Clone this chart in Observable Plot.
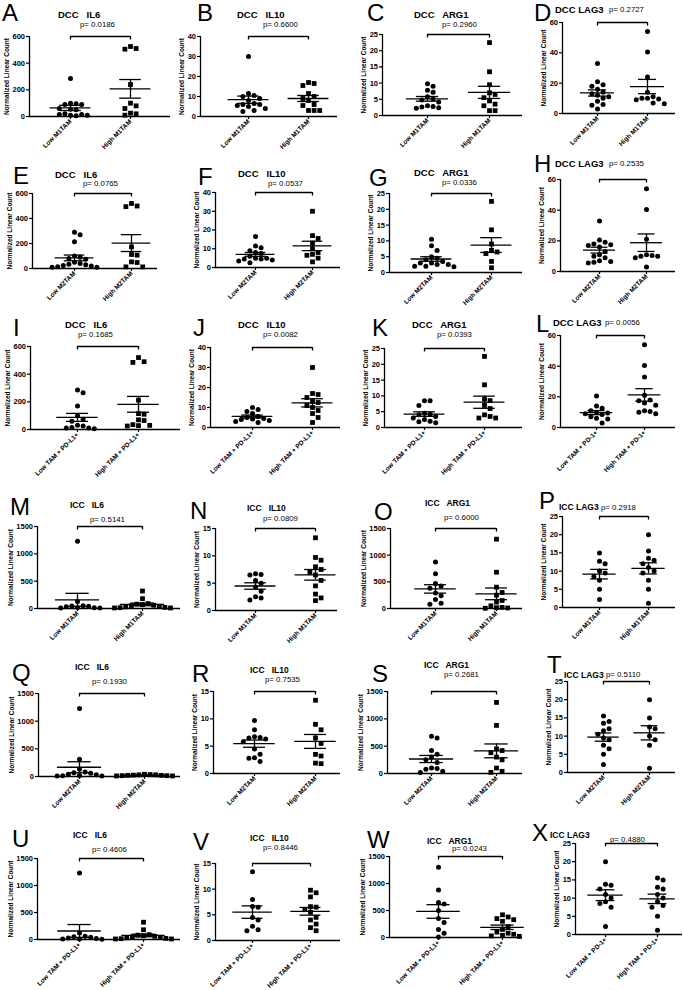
<!DOCTYPE html>
<html><head><meta charset="utf-8">
<script src="https://cdn.jsdelivr.net/npm/d3@7"></script>
<script src="https://cdn.jsdelivr.net/npm/@observablehq/plot@0.6"></script>
<style>
body{margin:0;background:#fff;}
#fig{position:relative;width:684px;height:990px;overflow:hidden;font-family:"Liberation Sans",Arial,sans-serif;background:#fff;}
.t{position:absolute;white-space:pre;line-height:1;transform:translateY(-50%);color:#000;}
.let{font-size:24px;line-height:0.85;}
.ttl{font-size:9.5px;font-weight:bold;}
.ttl.icc{font-size:8.5px;}
.pv{font-size:7.8px;}
#fig svg{position:absolute;overflow:visible;}
</style></head><body><div id="fig"></div>
<script>
// ---------------- data ----------------
const dccIl6M1Low = [285, 95, 90, 90, 100, 60, 55, 50, 20, 15, 10, 10, 15, 5];
const dccIl6M1High = [525, 510, 505, 240, 100, 80, 60, 25, 20, 10];
const dccIl10M1Low = [30, 11.5, 10.5, 10, 9, 8, 6.5, 6, 6, 5.5, 5, 4, 3, 2.5];
const dccIl10M1High = [17, 16.5, 15.5, 11.5, 10, 9, 8, 6, 5.5, 3, 3, 3];
const dccArg1M1Low = [9.8, 9, 7.8, 7.2, 5.8, 5.2, 4.8, 4.2, 3, 2.8, 2.6, 2.4, 2.2];
const dccArg1M1High = [22.5, 13.5, 9.5, 7, 6.5, 5.5, 4.5, 3.5, 3, 1.5, 1.5];
const dccLag3M1Low = [33, 21, 19, 18, 16, 14, 13, 12, 11, 10, 8, 6, 5.5, 3];
const dccLag3M1High = [54, 40.5, 24, 14, 11, 10, 10, 9.5, 9, 7, 6.5];

const dccIl6M2Low = [290, 270, 215, 100, 90, 80, 75, 50, 40, 35, 30, 25, 20, 15, 10, 10];
const dccIl6M2High = [520, 500, 495, 173, 112, 107, 53, 48, 13, 13];
const dccIl10M2Low = [16.5, 11.5, 10.5, 9, 8, 7.5, 6, 5, 5, 4.5, 4.5, 4, 3.5, 2.5];
const dccIl10M2High = [30, 17, 15.5, 13, 10, 8, 7, 6.5, 5, 3];
const dccArg1M2Low = [10.5, 8.5, 7, 5, 4.5, 4, 3.5, 3, 3, 2.5, 2.5, 2, 2, 1.8];
const dccArg1M2High = [22.5, 13.5, 9, 7, 6.5, 6, 3.5, 1.5];
const dccLag3M2Low = [33, 20.5, 19, 18, 17.5, 17, 16, 13, 11, 10, 9, 7, 6.5, 6, 5.5];
const dccLag3M2High = [54, 40.5, 21, 11, 10.5, 10, 10, 9, 3];

const dccIl6PdLow = [285, 265, 170, 100, 75, 60, 30, 25, 15, 10, 10, 5];
const dccIl6PdHigh = [520, 490, 485, 212, 115, 110, 70, 65, 35, 30, 28, 25];
const dccIl10PdLow = [10, 9, 8, 7, 5.5, 5, 4.5, 4.2, 4, 3.5, 3, 2.5];
const dccIl10PdHigh = [30, 17, 16.5, 15, 13, 12.5, 11, 10, 8.5, 7, 5, 2.5];
const dccArg1PdLow = [8.5, 8.5, 7, 4.5, 4.2, 4, 3.5, 3, 2.5, 2, 1.8, 1.5];
const dccArg1PdHigh = [22.5, 13.5, 9, 8.5, 7, 6, 4, 3.5, 3, 3];
const dccLag3PdLow = [20.5, 14, 12.5, 11, 10, 9.5, 9, 8.5, 7, 6, 5.5, 3];
const dccLag3PdHigh = [54, 40.5, 33, 21, 18, 17.5, 16, 14.5, 11, 10.5, 10, 9];

const iccIl6M1Low = [1230, 130, 50, 45, 40, 30, 20, 15, 10, 10];
const iccIl6M1High = [320, 180, 90, 80, 70, 60, 50, 40, 30, 20, 15, 10, 10];
const iccIl10M1Low = [6.7, 6.6, 6.5, 5.5, 5, 4.3, 3.5, 2.5, 2.3, 1.9];
const iccIl10M1High = [13.3, 9.7, 9.2, 8, 7.5, 7, 6.5, 5.5, 4.5, 3, 2.3, 1.8];
const iccArg1M1Low = [870, 650, 470, 420, 380, 290, 240, 170, 100, 80];
const iccArg1M1High = [1300, 680, 400, 300, 250, 150, 120, 50, 20, 15, 10, 5];
const iccLag3M1Low = [15, 12.7, 12, 10, 9.5, 8.5, 7.5, 5, 2.2];
const iccLag3M1High = [20, 15.5, 13.5, 13, 12, 11, 10, 9.5, 7.5, 5, 1.2];

const iccIl6M2Low = [1230, 310, 130, 80, 70, 60, 40, 30, 20, 15, 10, 10];
const iccIl6M2High = [40, 35, 30, 30, 25, 20, 20, 15, 15, 10, 10];
const iccIl10M2Low = [9.7, 8, 6.7, 6.6, 6.5, 6.3, 5.8, 4.5, 3.5, 2.9, 2.8, 2.2];
const iccIl10M2High = [13.4, 9, 8, 6.5, 5.5, 3.5, 3.2, 1.9, 1.8];
const iccArg1M2Low = [680, 650, 420, 350, 300, 250, 200, 100, 90, 80, 40, 20];
const iccArg1M2High = [1300, 880, 450, 420, 380, 300, 250, 100, 40, 20];
const iccLag3M2Low = [15.5, 14, 13.5, 12, 11.5, 10.5, 9.5, 9, 7.5, 6.5, 5, 2.2];
const iccLag3M2High = [20, 15, 12.5, 12, 10, 9, 7.5, 1.2];

const iccIl6PdLow = [1230, 120, 60, 50, 40, 30, 20, 10, 10, 5];
const iccIl6PdHigh = [320, 180, 90, 80, 70, 60, 50, 40, 30, 20, 15, 10, 10];
const iccIl10PdLow = [13.4, 8, 6.6, 6.5, 4.5, 4, 2.8, 2.1, 1.9];
const iccIl10PdHigh = [9.8, 9.3, 8.5, 6.6, 6.5, 6, 5.5, 4.5, 4, 3.2, 2.5, 1.9];
const iccArg1PdLow = [1300, 880, 650, 620, 500, 350, 280, 150, 80, 10];
const iccArg1PdHigh = [420, 380, 350, 330, 300, 200, 150, 100, 80, 60, 40, 30, 20];
const iccLag3PdLow = [20, 13.8, 13.5, 12.5, 11, 10, 9, 8.5, 7.5, 2.2];
const iccLag3PdHigh = [15.5, 15, 13, 12.5, 11, 10, 9, 8, 7.5, 5, 1.2];

// tick values
const ticksDccIl6 = [0, 200, 400, 600];
const ticksDccIl10 = [0, 10, 20, 30, 40];
const ticksDccArg1 = [0, 5, 10, 15, 20, 25];
const ticksDccLag3 = [0, 20, 40, 60];
const ticksIccIl6 = [0, 500, 1000, 1500];
const ticksIccIl10 = [0, 5, 10, 15];
const ticksIccArg1 = [0, 500, 1000, 1500];
const ticksIccLag3 = [0, 5, 10, 15, 20, 25];

// labels
const labelsM1 = ["Low M1TAM", "High M1TAM"];
const labelsM2 = ["Low M2TAM", "High M2TAM"];
const labelsPdl1 = ["Low TAM + PD-L1+", "High TAM + PD-L1+"];
const labelsPd1 = ["Low TAM + PD-1+", "High TAM + PD-1+"];
const panelLetters = ["A","B","C","D","E","F","G","H","I","J","K","L","M","N","O","P","Q","R","S","T","U","V","W","X"];
const panelTitles = ["DCC   IL6","DCC   IL10","DCC   ARG1","DCC LAG3",
  "DCC   IL6","DCC   IL10","DCC   ARG1","DCC LAG3",
  "DCC   IL6","DCC   IL10","DCC   ARG1","DCC LAG3",
  "ICC   IL6","ICC   IL10","ICC   ARG1","ICC LAG3",
  "ICC   IL6","ICC   IL10","ICC   ARG1","ICC LAG3",
  "ICC   IL6","ICC   IL10","ICC   ARG1","ICC LAG3"];
const pValues = ["0.0186","0.6600","0.2960","0.2727","0.0765","0.0537","0.0336","0.2535",
  "0.1685","0.0082","0.0393","0.0056","0.5141","0.0809","0.6000","0.2918",
  "0.1930","0.7535","0.2681","0.5110","0.4606","0.8446","0.0243","0.4880"];
const yLabel = "Normalized Linear Count";

// table built from the arrays above
const panels = [
  [dccIl6M1Low, dccIl6M1High, ticksDccIl6, labelsM1, "square"],
  [dccIl10M1Low, dccIl10M1High, ticksDccIl10, labelsM1, "square"],
  [dccArg1M1Low, dccArg1M1High, ticksDccArg1, labelsM1, "square"],
  [dccLag3M1Low, dccLag3M1High, ticksDccLag3, labelsM1, "circle"],
  [dccIl6M2Low, dccIl6M2High, ticksDccIl6, labelsM2, "square"],
  [dccIl10M2Low, dccIl10M2High, ticksDccIl10, labelsM2, "square"],
  [dccArg1M2Low, dccArg1M2High, ticksDccArg1, labelsM2, "square"],
  [dccLag3M2Low, dccLag3M2High, ticksDccLag3, labelsM2, "circle"],
  [dccIl6PdLow, dccIl6PdHigh, ticksDccIl6, labelsPdl1, "square"],
  [dccIl10PdLow, dccIl10PdHigh, ticksDccIl10, labelsPdl1, "square"],
  [dccArg1PdLow, dccArg1PdHigh, ticksDccArg1, labelsPdl1, "square"],
  [dccLag3PdLow, dccLag3PdHigh, ticksDccLag3, labelsPd1, "circle"],
  [iccIl6M1Low, iccIl6M1High, ticksIccIl6, labelsM1, "square"],
  [iccIl10M1Low, iccIl10M1High, ticksIccIl10, labelsM1, "square"],
  [iccArg1M1Low, iccArg1M1High, ticksIccArg1, labelsM1, "square"],
  [iccLag3M1Low, iccLag3M1High, ticksIccLag3, labelsM1, "circle"],
  [iccIl6M2Low, iccIl6M2High, ticksIccIl6, labelsM2, "square"],
  [iccIl10M2Low, iccIl10M2High, ticksIccIl10, labelsM2, "square"],
  [iccArg1M2Low, iccArg1M2High, ticksIccArg1, labelsM2, "square"],
  [iccLag3M2Low, iccLag3M2High, ticksIccLag3, labelsM2, "circle"],
  [iccIl6PdLow, iccIl6PdHigh, ticksIccIl6, labelsPdl1, "square"],
  [iccIl10PdLow, iccIl10PdHigh, ticksIccIl10, labelsPdl1, "square"],
  [iccArg1PdLow, iccArg1PdHigh, ticksIccArg1, labelsPdl1, "square"],
  [iccLag3PdLow, iccLag3PdHigh, ticksIccLag3, labelsPd1, "circle"]
];

// ---------------- layout (pixels) ----------------
// frame: [axisLeft, axisRight, top, bottom, lowCenter, highCenter]
const frames = [
  [29,170,36,116,70,130],[200,337,36,116,248,308],[382,522,34,115,427,489],[562,675,22,113,597,647],
  [32,157,193,268,74,131],[215,340,192,267,255,312],[389,522,193,272,431,491],[560,675,179,271,599,646],
  [30,180,346,429,77,138],[210,340,347,427,252,312],[384,522,348,427,424,484],[560,675,335,427,596,644],
  [37,180,526,608,77,142],[215,337,528,610,255,315],[390,522,528,608,435,496],[562,675,516,607,599,648],
  [38,180,693,776,79,144],[213,340,691,773,254,315],[387,522,691,773,431,496],[567,675,681,772,603,649],
  [37,180,858,939,79,143],[215,340,863,940,252,310],[389,522,856,937,438,502],[575,682,843,934,605,657]
];
// text: [letterX, letterY, titleX, titleY, pX, pY]
const textPos = [
  [2,13,58,15,80,25],[197,13,237,15,263,25],[367,13,414,15,442,25],[534,13,555,10,609,10],
  [13,176,55,175,83,184],[198,177,238,174,268,184],[369,178,414,173,442,183],[534,164,555,164,609,164],
  [13,328,65,325,78,335],[193,328,238,325,263,335],[372,328,412,325,437,335],[536,324,553,323,605,323],
  [10,507,70,505,90,520],[190,511,247,508,263,519],[374,512,425,503,444,518],[539,501,559,507,601,508],
  [12,673,75,667,92,682],[192,674,250,670,265,680],[372,674,424,665,444,675],[547,665,564,675,606,675],
  [12,839,73,835,92,850],[193,842,250,838,263,848],[367,840,427,841,452,849],[532,833,550,835,610,840]
];

const fig = document.getElementById("fig");

// deterministic swarm layout (pixel collision avoidance), returns offsets in x units
function swarm(vals, gi, ymax, plotH, unit, D) {
  const placed = [];
  const order = vals.map((v) => v).sort((a, b) => b - a);
  for (const v of order) {
    const py = v / ymax * plotH;
    let off = 0;
    for (let j = 0; j < 60; j++) {
      const cand = (j % 2 ? 1 : -1) * Math.ceil(j / 2) * D;
      if (placed.every(q => (q.px - cand) ** 2 + (q.py - py) ** 2 >= D * D)) { off = cand; break; }
    }
    placed.push({px: off, py, v});
  }
  return placed.map(q => ({x: gi + q.px / unit, y: q.v}));
}

function stat(vals, gi) {
  const m = d3.mean(vals), s = d3.deviation(vals) / Math.sqrt(vals.length);
  return {g: gi, mean: m, lo: m - s, hi: m + s};
}

panels.forEach((p, idx) => {
  const [low, high, ticks, labels, hiSym] = p;
  const [L, R, T, B, lo, hi] = frames[idx];
  const unit = hi - lo;
  const xd = [-(lo - L) / unit, 1 + (R - hi) / unit];
  const ymax = d3.max(ticks);
  const plotH = B - T;
  const mL = 40, mR = 4, mT = 4, mB = 60;
  const D = 5.6;
  const lowPts = swarm(low, 0, ymax, plotH, unit, D);
  const highPts = swarm(high, 1, ymax, plotH, unit, D);
  const stats = [stat(low, 0), stat(high, 1)];
  const maxLen = d3.max(ticks, t => String(t).length);
  const labOff = maxLen * 4.2 + 10;
  const sw = 1.3;
  const svg = Plot.plot({
    width: (R - L) + mL + mR,
    height: plotH + mT + mB,
    marginLeft: mL, marginRight: mR, marginTop: mT, marginBottom: mB,
    x: {domain: xd, axis: null, label: null},
    y: {domain: [0, ymax], axis: null, label: null},
    style: {fontFamily: "'Liberation Sans', Arial, sans-serif", fontWeight: "bold", background: "transparent", overflow: "visible"},
    marks: [
      Plot.axisY(ticks, {tickSize: 3, tickPadding: 1.5, tickFormat: d3.format("d"), label: null, fontSize: 7.5, fontWeight: "bold", strokeWidth: 1.2}),
      Plot.axisX([0, 1], {tickFormat: i => labels[i], tickRotate: -45, tickSize: 3, tickPadding: 1, label: null, fontSize: 6.5, fontWeight: "bold", strokeWidth: 1.2}),
      Plot.ruleX([xd[0]], {strokeWidth: sw}),
      Plot.ruleY([0], {strokeWidth: sw}),
      Plot.text([yLabel], {text: d => d, frameAnchor: "left", textAnchor: "middle", lineAnchor: "middle", rotate: -90, dx: -labOff, fontSize: 6.5, fontWeight: "bold"}),
      Plot.ruleY([ymax], {x1: 0, x2: 1, strokeWidth: sw}),
      Plot.ruleX([0, 1], {y1: ymax, y2: ymax * (1 - 3.5 / plotH), strokeWidth: sw}),
      Plot.dot(lowPts, {x: "x", y: "y", r: 2.5, fill: "black", stroke: "none", symbol: "circle"}),
      Plot.dot(highPts, {x: "x", y: "y", r: hiSym === "square" ? 2.7 : 2.5, fill: "black", stroke: "none", symbol: hiSym}),
      Plot.ruleY(stats, {y: "mean", x1: d => d.g - 0.34, x2: d => d.g + 0.34, strokeWidth: sw}),
      Plot.ruleY(stats, {y: "lo", x1: d => d.g - 0.18, x2: d => d.g + 0.18, strokeWidth: sw}),
      Plot.ruleY(stats, {y: "hi", x1: d => d.g - 0.18, x2: d => d.g + 0.18, strokeWidth: sw}),
      Plot.ruleX(stats, {x: "g", y1: "lo", y2: "hi", strokeWidth: sw})
    ]
  });
  svg.style.left = (L - mL) + "px";
  svg.style.top = (T - mT) + "px";
  fig.appendChild(svg);

  const tp = textPos[idx];
  const mk = (cls, txt, x, y) => {
    const d = document.createElement("div");
    d.className = "t " + cls;
    d.textContent = txt;
    d.style.left = x + "px";
    d.style.top = y + "px";
    fig.appendChild(d);
  };
  mk("let", panelLetters[idx], tp[0], tp[1]);
  mk("ttl" + (idx >= 12 ? " icc" : ""), panelTitles[idx], tp[2], tp[3]);
  mk("pv", "p= " + pValues[idx], tp[4], tp[5]);
});
</script></body></html>
